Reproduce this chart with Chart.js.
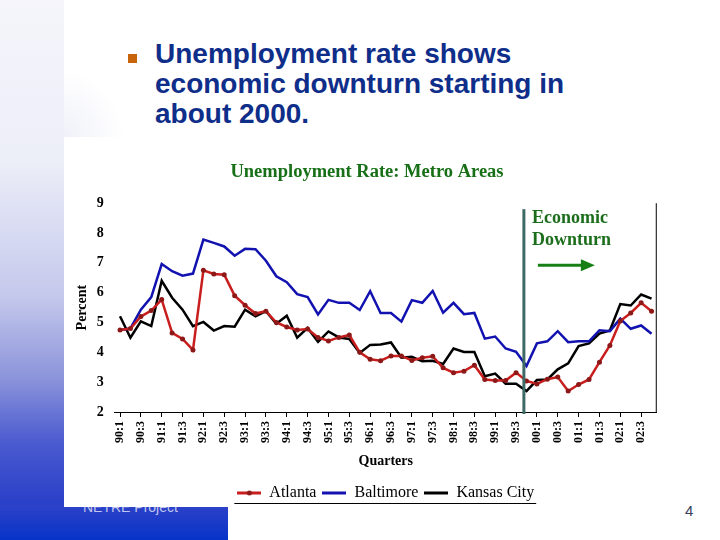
<!DOCTYPE html>
<html>
<head>
<meta charset="utf-8">
<title>Unemployment Rate: Metro Areas</title>
<script src="https://cdn.jsdelivr.net/npm/chart.js@4.4.1/dist/chart.umd.min.js"></script>
<style>
  body { margin: 0; }
  #slide { position: relative; width: 720px; height: 540px; overflow: hidden; background: #fff; }
  #strip { position: absolute; left: 0; top: 0; width: 64px; height: 540px;
    background: linear-gradient(to bottom, #f5f5fb 0%, #eceef8 30%, #c4c8ec 55%, #8c94da 70%, #4a5ad0 82%, #2a40c8 93%, #0a32c8 100%); }
  #fade { position: absolute; left: 64px; top: 70px; width: 60px; height: 67px;
    background: radial-gradient(ellipse at 0% 100%, #f0f1f9 0%, rgba(255,255,255,0) 70%); }
  #band { position: absolute; left: 0; top: 505px; width: 228px; height: 35px;
    background: linear-gradient(to bottom, #2e42c8 0%, #1a3ac8 50%, #0634c8 100%); }
  #footer { position: absolute; left: 83px; top: 499px; font: 14px "Liberation Sans", Arial, sans-serif; color: #c0c6ee; }
  #box { position: absolute; left: 64px; top: 137px; width: 600px; height: 370px; background: #fff; }
  #myChart { position: absolute; left: 0; top: 0; }
  #bullet { position: absolute; left: 128px; top: 54px; width: 9px; height: 9px; background: #c8640a; }
  #heading { position: absolute; left: 155px; top: 39px; font: bold 28px "Liberation Sans", Arial, sans-serif;
    line-height: 30px; color: #0f2e8a; }
  #page { position: absolute; left: 685px; top: 502px; font: 15px "Liberation Sans", Arial, sans-serif; color: #34405e; }
</style>
</head>
<body>
<div id="slide">
  <div id="strip"></div>
  <div id="fade"></div>
  <div id="band"></div>
  <div id="footer">NETRE Project</div>
  <div id="box"><canvas id="myChart" width="606" height="374"></canvas></div>
  <div id="bullet"></div>
  <div id="heading">Unemployment rate shows<br>economic downturn starting in<br>about 2000.</div>
  <div id="page">4</div>
</div>
<script>
// quarters 90:1 .. 02:4
var quarterLabels = [
  "90:1","90:2","90:3","90:4","91:1","91:2","91:3","91:4",
  "92:1","92:2","92:3","92:4","93:1","93:2","93:3","93:4",
  "94:1","94:2","94:3","94:4","95:1","95:2","95:3","95:4",
  "96:1","96:2","96:3","96:4","97:1","97:2","97:3","97:4",
  "98:1","98:2","98:3","98:4","99:1","99:2","99:3","99:4",
  "00:1","00:2","00:3","00:4","01:1","01:2","01:3","01:4",
  "02:1","02:2","02:3","02:4"
];

var atlantaRate = [
  4.75, 4.8, 5.2, 5.4, 5.77, 4.65, 4.45, 4.08,
  6.75, 6.63, 6.6, 5.9, 5.58, 5.3, 5.38, 5.0,
  4.85, 4.75, 4.78, 4.5, 4.38, 4.5, 4.58, 4.0,
  3.77, 3.72, 3.88, 3.88, 3.73, 3.82, 3.87, 3.48,
  3.32, 3.37, 3.57, 3.09, 3.06, 3.06, 3.32, 3.04,
  2.94, 3.1, 3.17, 2.7, 2.92, 3.09, 3.67, 4.23,
  5.05, 5.32, 5.66, 5.38
];

var baltimoreRate = [
  4.75, 4.8, 5.43, 5.85, 6.96, 6.72, 6.57, 6.64,
  7.78, 7.67, 7.55, 7.24, 7.47, 7.46, 7.07, 6.55,
  6.35, 5.95, 5.85, 5.27, 5.76, 5.66, 5.66, 5.42,
  6.05, 5.32, 5.32, 5.03, 5.75, 5.66, 6.06, 5.33,
  5.66, 5.28, 5.32, 4.46, 4.53, 4.13, 4.02, 3.54,
  4.3, 4.37, 4.71, 4.34, 4.37, 4.37, 4.74, 4.71,
  5.13, 4.79, 4.9, 4.62
];

var kansasCityRate = [
  5.21, 4.49, 5.04, 4.88, 6.4, 5.83, 5.43, 4.88,
  5.02, 4.73, 4.88, 4.86, 5.43, 5.21, 5.38, 4.96,
  5.23, 4.49, 4.82, 4.35, 4.7, 4.5, 4.45, 3.98,
  4.25, 4.26, 4.33, 3.82, 3.85, 3.7, 3.72, 3.61,
  4.13, 4.01, 4.01, 3.2, 3.29, 2.95, 2.95, 2.7,
  3.07, 3.09, 3.43, 3.63, 4.21, 4.3, 4.63, 4.73,
  5.62, 5.57, 5.94, 5.8
];

var seriesNames = ["Atlanta", "Baltimore", "Kansas City"];
var seriesColors = ["#c81e1e", "#1212b0", "#000000"];
var yMin = 2, yMax = 9;
// downturn marker sits just before 99:4
var downturnAt = 38.75;

var serif = "'Liberation Serif', 'Times New Roman', serif";
Chart.defaults.font.family = serif;
Chart.defaults.color = "#000";

// small legend swatches: a line, with a dot for Atlanta
function makeIcon(color, withDot) {
  var c = document.createElement("canvas");
  c.width = 24; c.height = 8;
  var g = c.getContext("2d");
  g.strokeStyle = color; g.lineWidth = 3;
  g.beginPath(); g.moveTo(0, 4); g.lineTo(24, 4); g.stroke();
  if (withDot) {
    g.fillStyle = "#8c1818";
    g.beginPath(); g.arc(12, 4, 2.5, 0, Math.PI * 2); g.fill();
  }
  return c;
}
var icons = [makeIcon(seriesColors[0], true), makeIcon(seriesColors[1], false), makeIcon(seriesColors[2], false)];

var overlay = {
  id: "overlay",
  afterDatasetsDraw: function(chart) {
    var ctx = chart.ctx, a = chart.chartArea, x = chart.scales.x, y = chart.scales.y;
    ctx.save();
    // right frame
    ctx.strokeStyle = "#000"; ctx.lineWidth = 1;
    ctx.beginPath(); ctx.moveTo(a.right - 0.5, a.top); ctx.lineTo(a.right - 0.5, a.bottom); ctx.stroke();
    // downturn line
    var lx = x.getPixelForValue(downturnAt);
    ctx.strokeStyle = "#3e6a66"; ctx.lineWidth = 3;
    ctx.beginPath(); ctx.moveTo(lx, y.getPixelForValue(8.8)); ctx.lineTo(lx, a.bottom + 2); ctx.stroke();
    // label + arrow
    ctx.fillStyle = "#1c6e1c";
    ctx.font = "bold 18px " + serif;
    ctx.textAlign = "left"; ctx.textBaseline = "alphabetic";
    ctx.fillText("Economic", lx + 8, a.top + 20);
    ctx.fillText("Downturn", lx + 8, a.top + 42);
    ctx.strokeStyle = "#168016"; ctx.fillStyle = "#168016"; ctx.lineWidth = 3;
    var ay = a.top + 62;
    ctx.beginPath(); ctx.moveTo(lx + 14, ay); ctx.lineTo(lx + 60, ay); ctx.stroke();
    ctx.beginPath(); ctx.moveTo(lx + 57, ay - 6); ctx.lineTo(lx + 71, ay); ctx.lineTo(lx + 57, ay + 6); ctx.closePath(); ctx.fill();
    ctx.restore();
  },
  afterDraw: function(chart) {
    var boxes = chart.legend.legendHitBoxes;
    if (!boxes || !boxes.length) return;
    var l = Math.min.apply(null, boxes.map(function(b) { return b.left; })) - 3;
    var r = Math.max.apply(null, boxes.map(function(b) { return b.left + b.width; })) + 2;
    var yy = Math.round(boxes[0].top + boxes[0].height + 2) + 0.5;
    var ctx = chart.ctx;
    ctx.save();
    ctx.strokeStyle = "#000"; ctx.lineWidth = 1;
    ctx.beginPath(); ctx.moveTo(l, yy); ctx.lineTo(r, yy); ctx.stroke();
    ctx.restore();
  }
};

function main() {
  var ctx = document.getElementById("myChart").getContext("2d");
  var rates = [atlantaRate, baltimoreRate, kansasCityRate];
  var datasets = [];
  for (var i = 0; i < rates.length; i++) {
    datasets.push({
      label: seriesNames[i],
      data: rates[i],
      borderColor: seriesColors[i],
      backgroundColor: seriesColors[i],
      borderWidth: 2.5,
      tension: 0,
      pointRadius: i === 0 ? 2.5 : 0,
      pointBackgroundColor: "#8c1818",
      pointBorderColor: "#8c1818",
      pointBorderWidth: 0
    });
  }

  var myChart = new Chart(ctx, {
    type: "line",
    data: { labels: quarterLabels, datasets: datasets },
    plugins: [overlay],
    options: {
      responsive: false,
      animation: false,
      layout: { padding: { left: 0, right: 0, top: 0, bottom: 0 } },
      plugins: {
        tooltip: { enabled: false },
        title: {
          display: true,
          text: "Unemployment Rate: Metro Areas",
          color: "#177017",
          font: { size: 18.5, weight: "bold" },
          padding: { top: 24, bottom: 20 }
        },
        legend: {
          position: "bottom",
          fullSize: false,
          labels: {
            usePointStyle: true,
            pointStyleWidth: 24,
            padding: 6,
            color: "#000",
            font: { size: 16 },
            generateLabels: function(chart) {
              var items = Chart.defaults.plugins.legend.labels.generateLabels(chart);
              items.forEach(function(it, k) { it.pointStyle = icons[k]; });
              return items;
            }
          }
        }
      },
      scales: {
        x: {
          offset: true,
          afterFit: function(s) { s.height = 67; },
          border: { display: true, color: "#000", width: 1 },
          grid: {
            display: true,
            drawOnChartArea: false,
            drawTicks: true,
            tickLength: 5,
            color: function(c) { return c.index % 2 === 0 ? "#000" : "rgba(0,0,0,0)"; }
          },
          ticks: {
            autoSkip: false,
            minRotation: 90,
            maxRotation: 90,
            padding: 4,
            color: "#000",
            font: { size: 12, weight: "bold" },
            callback: function(v, idx) { return idx % 2 === 0 ? quarterLabels[idx] : ""; }
          },
          title: {
            display: true,
            text: "Quarters",
            color: "#000",
            font: { size: 14, weight: "bold" },
            padding: { top: 4, bottom: 9 }
          }
        },
        y: {
          min: yMin,
          max: yMax,
          afterFit: function(s) { s.width = 50.8; },
          border: { display: false },
          grid: { display: false },
          ticks: {
            stepSize: 1,
            padding: 3,
            color: "#000",
            font: { size: 14, weight: "bold" }
          },
          title: {
            display: true,
            text: "Percent",
            color: "#000",
            font: { size: 14, weight: "bold" },
            padding: { top: 10, bottom: 0 }
          }
        }
      }
    }
  });
}

main();
</script>
</body>
</html>
